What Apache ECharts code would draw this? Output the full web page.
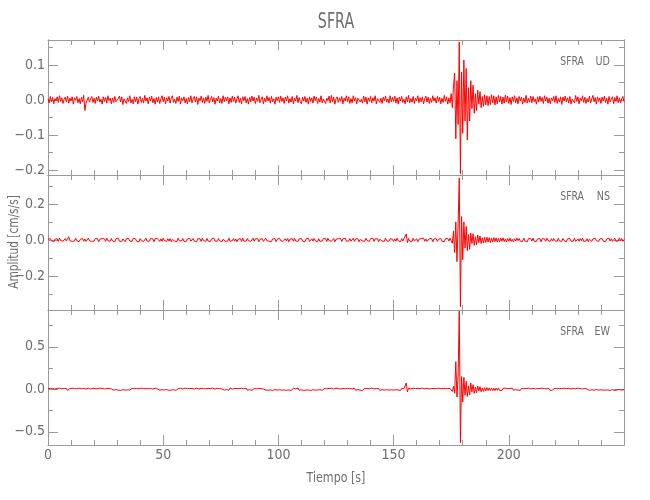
<!DOCTYPE html>
<html>
<head>
<meta charset="utf-8">
<script src="https://cdn.jsdelivr.net/npm/echarts@6/dist/echarts.min.js"></script>
<style>html,body{margin:0;padding:0;background:#fff}#c{width:650px;height:500px}</style>
</head>
<body>
<div id="c"></div>
<script>
// Sample spacing (s) and amplitude unit of the arrays below (1e-3 cm/s/s)
const DT = 0.5;
const UNIT = 0.001;

const stationName = 'SFRA';
const componentNames = ['UD', 'NS', 'EW'];

// UD component, 0..250 s every 0.5 s, in 1e-3 cm/s/s
const udMilli = [
3,-8,10,-5,7,-11,4,-2,9,-7,12,-4,6,-10,2,8,-6,11,-9,5,
-3,9,-12,6,-1,10,-8,4,-11,7,-5,13,-30,-9,-14,8,-6,3,10,-7,
5,-10,8,-3,11,-6,2,-12,9,-4,7,-9,12,-2,5,-11,6,-7,10,-5,
-8,4,11,-6,9,-13,3,7,-10,6,-4,12,-8,2,-11,9,-5,8,-12,4,
10,-7,5,-9,13,-3,6,-11,8,-2,11,-8,4,-12,7,-6,9,-10,3,12,
-5,8,-11,6,-3,10,-9,5,12,-7,2,-10,8,-4,11,-12,6,-2,9,-8,
4,-11,7,-5,12,-8,3,10,-6,9,-13,5,-2,11,-7,6,-10,8,-4,13,
-9,2,10,-6,7,-12,5,-3,11,-8,4,-10,12,-5,8,-2,9,-11,6,-7,
11,-4,8,-9,3,12,-7,5,-11,9,-2,10,-8,4,-12,7,-5,11,-3,8,
-10,6,-4,13,-8,2,9,-11,5,-6,12,-3,7,-9,10,-5,3,-12,8,-2,
9,-7,11,-4,6,-10,8,-2,12,-9,4,-6,10,-11,5,-3,13,-8,7,-5,
-11,8,-3,10,-7,5,-12,9,-4,6,-9,11,-2,8,-10,4,-6,12,-8,3,
7,-10,5,-2,11,-9,13,-5,8,-12,3,9,-7,6,-4,10,-11,5,-3,12,
-6,9,-10,4,-8,12,-3,7,-11,5,10,-6,2,-9,11,-5,8,-12,6,-4,
10,-8,6,-3,12,-11,4,9,-7,5,-10,8,-2,11,-6,3,-9,12,-5,7,
-4,11,-9,6,-12,8,-3,10,-7,2,-11,9,-5,13,-8,4,-6,10,-10,5,
-2,12,-8,7,-5,9,-11,3,11,-6,8,-10,4,-7,12,-3,6,-9,10,-4,
8,-11,5,-7,13,-4,9,-12,6,-8,18,-22,40,77,-111,55,-70,165,-210,80,
-95,114,-60,90,-114,35,-60,55,-25,42,-38,18,-30,28,-12,24,-22,10,-18,15,
-14,12,-16,10,-13,15,-8,12,-14,9,-11,13,-6,10,-12,8,-9,14,-5,11,
-10,7,-13,9,-4,12,-8,6,-11,10,-3,8,-12,5,-7,13,-9,4,-6,11,
-8,10,-5,3,-12,9,-6,11,-4,7,-10,12,-3,8,-9,5,-11,6,-2,10,
-7,12,-10,4,-6,9,-13,8,-3,11,-5,6,-9,10,-12,3,7,-8,13,-4,
9,-11,5,-2,12,-7,8,-10,4,-6,11,-9,3,13,-5,7,-12,9,-4,6,
-10,8,-3,11,-7,5,-12,10,-6,2,9,-11,7,-4,12,-8,6,-9,3,10,
-5
];

// NS component
const nsMilli = [
3,-7,8,-4,6,-10,4,-1,7,-8,10,-3,6,-7,1,8,-6,4,18,-4,
7,-8,3,-6,10,-4,7,-10,4,-3,8,-7,6,-8,3,10,-4,7,-8,1,
-6,8,-3,7,-10,4,-7,8,-1,6,-8,10,-4,3,-7,8,-6,4,-10,7,
-3,10,-7,4,-8,6,1,-10,7,-4,8,-6,3,-8,10,-1,6,-7,4,-10,
8,-4,7,-8,3,10,-6,4,-7,8,-3,6,-10,7,-4,8,-1,-8,6,-7,
10,-3,4,-8,7,-6,8,-10,3,6,-7,4,-8,10,-4,1,-6,8,-7,3,
-8,6,-4,10,-7,3,8,-6,4,-10,7,-3,6,-8,10,-4,1,-7,8,-6,
4,-8,7,-3,10,-6,3,-7,8,-4,6,-10,4,7,-8,3,-6,10,-7,1,
-4,8,-7,6,-10,4,-3,7,-8,10,-6,3,-7,8,-4,6,-8,1,10,-7,
6,-3,8,-10,4,-6,7,-8,3,10,-4,7,-7,4,-8,6,-3,8,-10,4,
-7,10,-4,6,-8,3,7,-6,8,-10,4,-3,7,-7,10,-6,3,-8,6,-4,
8,-7,4,-10,6,-3,10,-8,3,7,-6,8,-4,1,-10,7,-7,4,-6,8,
-3,7,-8,10,-4,6,-7,3,8,-10,4,-6,7,-3,8,-8,6,-4,10,-7,
4,-6,8,-7,3,10,-8,6,-4,7,-10,3,8,-6,4,-7,10,-3,6,-8,
7,-4,10,-8,6,-3,7,-10,4,8,-6,3,-7,10,-4,6,-8,7,-3,4,
-8,6,-7,10,-4,3,-10,7,-6,8,-3,33,-15,8,-7,4,-8,10,-6,3,
7,-10,4,-6,8,-3,10,-7,6,-8,3,7,-4,8,-10,6,-3,7,-8,4,
-6,8,-7,4,-10,7,-3,8,-6,10,14,-18,50,-70,100,-120,90,345,-370,130,
-110,100,-45,75,-60,30,-52,38,-20,35,-30,18,-26,28,-14,22,-20,12,-17,15,
-14,15,-11,13,-14,10,-12,13,-9,12,-12,8,-10,11,-7,12,-9,6,-11,8,
-7,11,-8,4,-10,7,-6,10,-4,8,-7,3,-8,11,-6,4,-10,7,-3,8,
-6,10,-7,4,-8,6,-3,8,-10,7,-4,6,-7,10,-3,4,-8,7,-6,8,
-4,7,-8,10,-6,3,-7,8,-4,6,-10,7,-3,8,-7,4,-6,10,-8,3,
6,-7,8,-4,10,-8,3,-6,7,-10,4,8,-7,6,-3,10,-4,7,-8,6,
-3,8,-7,4,-10,6,-4,10,-6,7,-8,3,10,-7,4,-6,12,-4,8,-8,
3
];

// EW component
const ewMilli = [
4,-10,12,-6,9,-14,3,-8,10,-4,14,-9,6,-12,8,-3,10,-14,4,9,
-8,12,-4,9,-14,6,-10,14,-3,8,-12,10,-6,4,-9,14,-8,3,-10,12,
-4,9,-12,6,-8,14,-3,10,-9,4,-14,8,-6,12,-10,3,9,-8,14,-4,
10,-9,6,-14,8,-3,12,-10,4,-6,14,-9,3,10,-12,8,-4,9,-14,6,
-10,14,-4,8,-12,9,-3,6,-14,10,-8,4,-9,12,-6,3,14,-10,8,-4,
12,-8,9,-3,14,-12,6,-9,10,-4,8,-14,3,9,-10,12,-6,4,-9,14,
-3,8,-14,10,-6,9,-12,4,-8,14,-9,3,-10,12,-4,8,-14,6,-3,10,
-12,9,-4,14,-8,3,-10,12,-6,9,-14,4,8,-9,12,-3,6,-10,14,-8,
4,-12,10,-6,8,-14,9,-3,12,-9,4,-8,14,-10,6,-4,10,-12,3,9,
-9,6,-14,12,-4,8,-10,3,14,-8,9,-12,4,-6,10,-14,8,-3,12,-9,
6,-4,14,-10,9,-8,3,-12,10,-6,8,-14,4,12,-9,6,-3,14,-10,8,
-6,10,-12,4,-9,14,-8,3,-14,9,-4,12,-10,6,-8,9,-3,14,-12,4,
9,-8,6,-14,10,-4,12,-9,3,-10,14,-6,8,-12,4,-9,10,-3,6,-14,
12,-6,9,-10,4,-8,14,-12,6,-3,10,-9,8,-14,3,12,-4,9,-10,6,
-8,14,-9,4,-12,8,-6,10,-14,9,-3,6,-10,12,-4,8,-9,14,-6,3,
-10,9,-4,12,-8,6,-14,10,-3,8,-12,75,-30,14,-9,4,-10,12,-6,9,
-4,10,-12,8,-3,14,-9,6,-10,12,-8,4,-14,9,-6,10,-3,8,-12,14,
-9,6,-4,12,-10,8,-14,9,-3,10,18,-25,35,-45,325,-90,150,920,-630,150,
-150,140,-70,95,-85,40,-65,75,-30,55,-48,25,-40,38,-18,32,-28,15,-24,20,
-18,20,-15,17,-14,16,-17,12,-15,14,-12,16,-13,10,-14,12,-9,13,-10,8,
-12,9,-6,14,-10,8,-4,12,-9,6,-14,10,-3,8,-12,9,-6,14,-8,4,
-10,12,-8,3,-14,9,-6,10,-4,14,-9,8,-12,6,-3,10,-14,9,-8,4,
12,-9,6,-14,10,-4,8,-10,14,-6,9,-3,12,-9,4,-8,10,-12,6,-4,
14,-8,9,-12,4,-6,10,-9,3,12,-14,8,-4,9,-10,6,-3,14,-9,8,
-6,12,-10,4,-8,14,-9,3,-12,10,-4,8,-14,9,-6,12,-3,9,-10,6,
-4
];

// Axis ranges (cm/s/s) and tick values per panel
const xMin = 0, xMax = 250, xStep = 50;
const xLabels = [0, 50, 100, 150, 200];
const yRanges = [[-0.214, 0.171], [-0.389, 0.361], [-0.655, 0.933]];
const yMajor = [[-0.2, -0.1, 0, 0.1], [-0.2, 0, 0.2], [-0.5, 0, 0.5]];
const yMinor = [[-0.15, -0.05, 0.05, 0.15], [-0.3, -0.1, 0.1, 0.3], [-0.25, 0.25, 0.75]];

const traces = [udMilli, nsMilli, ewMilli];

const FONT = "'Liberation Sans Narrow','DejaVu Sans Condensed',sans-serif";
const AX = '#9a9a9a';
const TX = '#6e6e6e';
const gridTops = [40, 175, 310];
const GH = 135;

const grids = [], xAxes = [], yAxes = [], series = [], graphics = [];

function fmt(v) {
  const s = Math.abs(v).toFixed(1);
  return v < -1e-9 ? '\u2212' + s : s;
}

for (let g = 0; g < 3; g++) {
  grids.push({ left: 48, width: 576, top: gridTops[g], height: GH, containLabel: false });
  ['bottom', 'top'].forEach(function (pos) {
    xAxes.push({
      gridIndex: g, type: 'value', position: pos, min: xMin, max: xMax, interval: xStep,
      axisLine: { show: true, onZero: false, lineStyle: { color: AX, width: 1 } },
      axisTick: { show: true, inside: true, length: 10, lineStyle: { color: AX } },
      minorTick: { show: true, splitNumber: 5, length: 5, lineStyle: { color: AX } },
      axisLabel: { show: g === 2 && pos === 'bottom', customValues: xLabels, margin: 3, color: TX, fontSize: 14, fontFamily: FONT },
      splitLine: { show: false }, minorSplitLine: { show: false }
    });
  });
  const r = yRanges[g];
  [['left', yMajor[g], 10, true], ['left', yMinor[g], 5, false], ['right', yMajor[g], 10, false], ['right', yMinor[g], 5, false]].forEach(function (a) {
    yAxes.push({
      gridIndex: g, type: 'value', position: a[0], min: r[0], max: r[1],
      axisLine: { show: true, onZero: false, lineStyle: { color: AX, width: 1 } },
      axisTick: { show: true, inside: true, length: a[2], customValues: a[1], lineStyle: { color: AX } },
      axisLabel: { show: a[3], customValues: a[1], formatter: fmt, margin: 3, color: TX, fontSize: 14, fontFamily: FONT },
      splitLine: { show: false }
    });
  });
  series.push({
    type: 'line', xAxisIndex: g * 2, yAxisIndex: g * 4,
    data: traces[g].map(function (v, i) { return [i * DT, v * UNIT]; }),
    showSymbol: false, symbol: 'none', sampling: null,
    lineStyle: { color: '#ff0000', width: 1 }, animation: false, z: 1
  });
  graphics.push({ type: 'text', x: 584, y: gridTops[g] + 21.5, scaleX: 0.8,
    style: { text: stationName, fill: TX, font: '13px ' + FONT, align: 'right', verticalAlign: 'middle' } });
  graphics.push({ type: 'text', x: 610, y: gridTops[g] + 21.5, scaleX: 0.82,
    style: { text: componentNames[g], fill: TX, font: '13px ' + FONT, align: 'right', verticalAlign: 'middle' } });
}

graphics.push({ type: 'text', x: 336, y: 22, scaleX: 0.72,
  style: { text: stationName, fill: TX, font: '22px ' + FONT, align: 'center', verticalAlign: 'middle' } });
graphics.push({ type: 'text', x: 336, y: 478, scaleX: 0.88,
  style: { text: 'Tiempo [s]', fill: TX, font: '14px ' + FONT, align: 'center', verticalAlign: 'middle' } });
graphics.push({ type: 'text', x: 14, y: 242, rotation: Math.PI / 2, scaleX: 0.84,
  style: { text: 'Amplitud [cm/s/s]', fill: TX, font: '14px ' + FONT, align: 'center', verticalAlign: 'middle' } });

const chart = echarts.init(document.getElementById('c'), null, { renderer: 'canvas' });
chart.setOption({
  animation: false,
  backgroundColor: '#ffffff',
  grid: grids, xAxis: xAxes, yAxis: yAxes, series: series, graphic: graphics
});
</script>
</body>
</html>
